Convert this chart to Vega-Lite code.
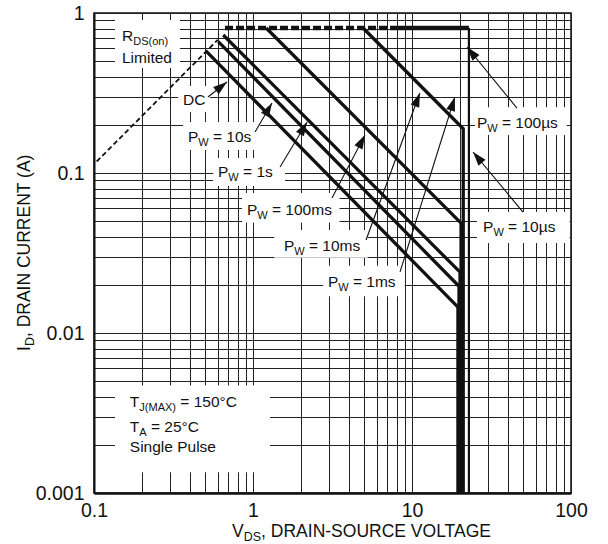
{
  "$schema": "https://vega.github.io/schema/vega-lite/v6.json",
  "autosize": {"type": "none"},
  "padding": {"left": 94, "top": 13, "right": 37, "bottom": 51},
  "width": 477,
  "height": 480,
  "config": {
    "font": "Liberation Sans",
    "view": {"stroke": "#111", "strokeWidth": 1.5},
    "text": {"font": "Liberation Sans", "color": "#111", "baseline": "alphabetic", "align": "left"}
  },
  "datasets": {
    "curves": [
      {"curve": "RDS(on) limit", "k": 1, "v": 0.104, "i": 0.118},
      {"curve": "RDS(on) limit", "k": 2, "v": 0.6, "i": 0.68},
      {"curve": "current limit", "k": 1, "v": 0.667, "i": 0.806},
      {"curve": "current limit", "k": 2, "v": 8.05, "i": 0.806},
      {"curve": "100 µs", "k": 1, "v": 4.92, "i": 0.806},
      {"curve": "100 µs", "k": 2, "v": 21.0, "i": 0.189},
      {"curve": "100 µs", "k": 3, "v": 21.0, "i": 0.001},
      {"curve": "100 ms", "k": 1, "v": 1.21, "i": 0.806},
      {"curve": "100 ms", "k": 2, "v": 20.35, "i": 0.0486},
      {"curve": "100 ms", "k": 3, "v": 20.35, "i": 0.001},
      {"curve": "1 s", "k": 1, "v": 0.65, "i": 0.729},
      {"curve": "1 s", "k": 2, "v": 20.05, "i": 0.024},
      {"curve": "1 s", "k": 3, "v": 20.05, "i": 0.001},
      {"curve": "10 s", "k": 1, "v": 0.605, "i": 0.662},
      {"curve": "10 s", "k": 2, "v": 19.75, "i": 0.0196},
      {"curve": "10 s", "k": 3, "v": 19.75, "i": 0.001},
      {"curve": "DC", "k": 1, "v": 0.511, "i": 0.573},
      {"curve": "DC", "k": 2, "v": 19.45, "i": 0.01452},
      {"curve": "DC", "k": 3, "v": 19.45, "i": 0.001},
      {"curve": "10 µs top", "k": 1, "v": 8.05, "i": 0.806},
      {"curve": "10 µs top", "k": 2, "v": 22.8, "i": 0.806},
      {"curve": "10 µs", "k": 1, "v": 22.8, "i": 0.806},
      {"curve": "10 µs", "k": 2, "v": 22.8, "i": 0.001}
    ],
    "boxes": [
      {"box": "rds", "v": 0.1355, "v2": 0.347, "i": 0.904, "i2": 0.453},
      {"box": "dc", "v": 0.338, "v2": 0.536, "i": 0.35, "i2": 0.24},
      {"box": "10s", "v": 0.363, "v2": 1.11, "i": 0.208, "i2": 0.139},
      {"box": "1s", "v": 0.561, "v2": 1.59, "i": 0.124, "i2": 0.083},
      {"box": "100ms", "v": 0.853, "v2": 3.5, "i": 0.075, "i2": 0.049},
      {"box": "10ms", "v": 1.36, "v2": 5.27, "i": 0.044, "i2": 0.0295},
      {"box": "1ms", "v": 2.76, "v2": 9.0, "i": 0.0263, "i2": 0.017},
      {"box": "100us", "v": 24.9, "v2": 94, "i": 0.258, "i2": 0.173},
      {"box": "10us", "v": 25.6, "v2": 98, "i": 0.057, "i2": 0.0365},
      {"box": "cond", "v": 0.1355, "v2": 1.28, "i": 0.0047, "i2": 0.00135}
    ],
    "arrows": [
      {"arrow": "DC", "k": 1, "v": 0.521, "i": 0.2985},
      {"arrow": "DC", "k": 2, "v": 0.686, "i": 0.3707},
      {"arrow": "10s", "k": 1, "v": 1.03, "i": 0.1804},
      {"arrow": "10s", "k": 2, "v": 1.317, "i": 0.274},
      {"arrow": "1s", "k": 1, "v": 1.479, "i": 0.109},
      {"arrow": "1s", "k": 2, "v": 2.19, "i": 0.2083},
      {"arrow": "100ms", "k": 1, "v": 3.14, "i": 0.0698},
      {"arrow": "100ms", "k": 2, "v": 5.06, "i": 0.1728},
      {"arrow": "10ms", "k": 1, "v": 5.14, "i": 0.0381},
      {"arrow": "10ms", "k": 2, "v": 11.2, "i": 0.316},
      {"arrow": "1ms", "k": 1, "v": 8.41, "i": 0.0241},
      {"arrow": "1ms", "k": 2, "v": 18.6, "i": 0.2985},
      {"arrow": "100us", "k": 1, "v": 45.7, "i": 0.2547},
      {"arrow": "100us", "k": 2, "v": 22.2, "i": 0.613},
      {"arrow": "10us", "k": 1, "v": 49.9, "i": 0.057},
      {"arrow": "10us", "k": 2, "v": 24.2, "i": 0.1353}
    ],
    "heads": [
      {"arrow": "DC", "v": 0.686, "i": 0.3707, "angle": 51.7},
      {"arrow": "10s", "v": 1.317, "i": 0.274, "angle": 30.4},
      {"arrow": "1s", "v": 2.19, "i": 0.2083, "angle": 31},
      {"arrow": "100ms", "v": 5.06, "i": 0.1728, "angle": 27.6},
      {"arrow": "10ms", "v": 11.2, "i": 0.316, "angle": 20.2},
      {"arrow": "1ms", "v": 18.6, "i": 0.2985, "angle": 17.4},
      {"arrow": "100us", "v": 22.2, "i": 0.613, "angle": 320.7},
      {"arrow": "10us", "v": 24.2, "i": 0.1353, "angle": 320.2}
    ],
    "labels": [
      {"grp": "R", "main": "R", "sub": "DS(on)", "post": "", "v": 0.15, "i": 0.668},
      {"grp": "none", "main": "Limited", "sub": "", "post": "", "v": 0.15, "i": 0.487},
      {"grp": "none", "main": "DC", "sub": "", "post": "", "v": 0.363, "i": 0.266},
      {"grp": "W", "main": "P", "sub": "W", "post": "= 10s", "v": 0.39, "i": 0.156},
      {"grp": "W", "main": "P", "sub": "W", "post": "= 1s", "v": 0.603, "i": 0.0944},
      {"grp": "W", "main": "P", "sub": "W", "post": "= 100ms", "v": 0.917, "i": 0.0546},
      {"grp": "W", "main": "P", "sub": "W", "post": "= 10ms", "v": 1.567, "i": 0.0326},
      {"grp": "W", "main": "P", "sub": "W", "post": "= 1ms", "v": 2.96, "i": 0.0194},
      {"grp": "W", "main": "P", "sub": "W", "post": "= 100µs", "v": 25.6, "i": 0.191},
      {"grp": "W", "main": "P", "sub": "W", "post": "= 10µs", "v": 28.0, "i": 0.0428},
      {"grp": "J", "main": "T", "sub": "J(MAX)", "post": "= 150°C", "v": 0.168, "i": 0.00345},
      {"grp": "A", "main": "T", "sub": "A", "post": "= 25°C", "v": 0.168, "i": 0.0024},
      {"grp": "none", "main": "Single Pulse", "sub": "", "post": "", "v": 0.168, "i": 0.0018}
    ],
    "titles": [
      {"axis": "x", "main": "V", "sub": "DS", "post": ", DRAIN-SOURCE VOLTAGE", "v": 0.738, "i": 0.001},
      {"axis": "y", "main": "I", "sub": "D", "post": ", DRAIN CURRENT (A)", "v": 0.1, "i": 0.00772}
    ]
  },
  "encoding": {
    "x": {
      "field": "v", "type": "quantitative",
      "scale": {"type": "log", "domain": [0.1, 100], "nice": false},
      "axis": {
        "title": null,
        "values": [0.1, 0.2, 0.3, 0.4, 0.5, 0.6, 0.7, 0.8, 0.9, 1, 2, 3, 4, 5, 6, 7, 8, 9, 10, 20, 30, 40, 50, 60, 70, 80, 90, 100],
        "labelExpr": "abs(log(datum.value)/LN10 - round(log(datum.value)/LN10)) < 0.01 ? format(datum.value, '~g') : ''",
        "grid": true, "gridColor": "#222", "gridWidth": 1, "gridOpacity": 1,
        "ticks": false, "domain": true, "domainColor": "#111", "domainWidth": 2.5,
        "labelFont": "Liberation Sans", "labelFontSize": 19.5, "labelColor": "#111",
        "labelPadding": 8, "labelFlush": false, "labelOverlap": false
      }
    },
    "y": {
      "field": "i", "type": "quantitative",
      "scale": {"type": "log", "domain": [0.001, 1], "nice": false},
      "axis": {
        "title": null,
        "values": [0.001, 0.002, 0.003, 0.004, 0.005, 0.006, 0.007, 0.008, 0.009, 0.01, 0.02, 0.03, 0.04, 0.05, 0.06, 0.07, 0.08, 0.09, 0.1, 0.2, 0.3, 0.4, 0.5, 0.6, 0.7, 0.8, 0.9, 1],
        "labelExpr": "abs(log(datum.value)/LN10 - round(log(datum.value)/LN10)) < 0.01 ? format(datum.value, '~g') : ''",
        "grid": true, "gridColor": "#222", "gridWidth": 1, "gridOpacity": 1,
        "ticks": false, "domain": true, "domainColor": "#111", "domainWidth": 2,
        "labelFont": "Liberation Sans", "labelFontSize": 19.5, "labelColor": "#111",
        "labelPadding": 10, "labelFlush": false, "labelOverlap": false
      }
    }
  },
  "layer": [
    {
      "data": {"name": "boxes"},
      "mark": {"type": "rect", "fill": "white", "stroke": null},
      "encoding": {"x2": {"field": "v2"}, "y2": {"field": "i2"}}
    },
    {
      "data": {"name": "curves"},
      "transform": [{"filter": "datum.curve == 'RDS(on) limit'"}],
      "mark": {"type": "line", "color": "#111", "strokeWidth": 1.8, "strokeDash": [5, 3]},
      "encoding": {"order": {"field": "k"}}
    },
    {
      "data": {"name": "curves"},
      "transform": [{"filter": "datum.curve == 'current limit'"}],
      "mark": {"type": "line", "color": "#111", "strokeWidth": 4.5, "strokeDash": [8, 3]},
      "encoding": {"order": {"field": "k"}}
    },
    {
      "data": {"name": "curves"},
      "transform": [{"filter": "indexof(['100 µs','100 ms','1 s','10 s','DC'], datum.curve) >= 0"}],
      "mark": {"type": "line", "color": "#111", "strokeWidth": 3.3},
      "encoding": {"detail": {"field": "curve"}, "order": {"field": "k"}}
    },
    {
      "data": {"name": "curves"},
      "transform": [{"filter": "datum.curve == '10 µs top'"}],
      "mark": {"type": "line", "color": "#111", "strokeWidth": 4.5},
      "encoding": {"order": {"field": "k"}}
    },
    {
      "data": {"name": "curves"},
      "transform": [{"filter": "datum.curve == '10 µs'"}],
      "mark": {"type": "line", "color": "#111", "strokeWidth": 2.2},
      "encoding": {"order": {"field": "k"}}
    },
    {
      "data": {"name": "arrows"},
      "mark": {"type": "line", "color": "#111", "strokeWidth": 1.1},
      "encoding": {"detail": {"field": "arrow"}, "order": {"field": "k"}}
    },
    {
      "data": {"name": "heads"},
      "mark": {"type": "point", "shape": "M0,0L0.65,2L-0.65,2Z", "filled": true, "color": "#111", "opacity": 1, "size": 196},
      "encoding": {"angle": {"field": "angle", "type": "quantitative", "scale": null}}
    },
    {
      "data": {"name": "labels"},
      "mark": {"type": "text", "fontSize": 15.5},
      "encoding": {"text": {"field": "main"}}
    },
    {
      "data": {"name": "labels"},
      "transform": [{"filter": "datum.grp == 'W'"}],
      "mark": {"type": "text", "fontSize": 11, "dx": 10.3, "dy": 4},
      "encoding": {"text": {"field": "sub"}}
    },
    {
      "data": {"name": "labels"},
      "transform": [{"filter": "datum.grp == 'W'"}],
      "mark": {"type": "text", "fontSize": 15.5, "dx": 25},
      "encoding": {"text": {"field": "post"}}
    },
    {
      "data": {"name": "labels"},
      "transform": [{"filter": "datum.grp == 'R'"}],
      "mark": {"type": "text", "fontSize": 11, "dx": 11.2, "dy": 4},
      "encoding": {"text": {"field": "sub"}}
    },
    {
      "data": {"name": "labels"},
      "transform": [{"filter": "datum.grp == 'J' || datum.grp == 'A'"}],
      "mark": {"type": "text", "fontSize": 11, "dx": 9.5, "dy": 4},
      "encoding": {"text": {"field": "sub"}}
    },
    {
      "data": {"name": "labels"},
      "transform": [{"filter": "datum.grp == 'J'"}],
      "mark": {"type": "text", "fontSize": 15.5, "dx": 50.5},
      "encoding": {"text": {"field": "post"}}
    },
    {
      "data": {"name": "labels"},
      "transform": [{"filter": "datum.grp == 'A'"}],
      "mark": {"type": "text", "fontSize": 15.5, "dx": 21.1},
      "encoding": {"text": {"field": "post"}}
    },
    {
      "data": {"name": "titles"},
      "transform": [{"filter": "datum.axis == 'x'"}],
      "mark": {"type": "text", "fontSize": 17.5, "dy": 44},
      "encoding": {"text": {"field": "main"}}
    },
    {
      "data": {"name": "titles"},
      "transform": [{"filter": "datum.axis == 'x'"}],
      "mark": {"type": "text", "fontSize": 12.5, "dx": 11.7, "dy": 48},
      "encoding": {"text": {"field": "sub"}}
    },
    {
      "data": {"name": "titles"},
      "transform": [{"filter": "datum.axis == 'x'"}],
      "mark": {"type": "text", "fontSize": 17.5, "dx": 29.1, "dy": 44},
      "encoding": {"text": {"field": "post"}}
    },
    {
      "data": {"name": "titles"},
      "transform": [{"filter": "datum.axis == 'y'"}],
      "mark": {"type": "text", "fontSize": 17.5, "angle": 270, "dy": -64},
      "encoding": {"text": {"field": "main"}}
    },
    {
      "data": {"name": "titles"},
      "transform": [{"filter": "datum.axis == 'y'"}],
      "mark": {"type": "text", "fontSize": 12.5, "angle": 270, "dx": 4.9, "dy": -60},
      "encoding": {"text": {"field": "sub"}}
    },
    {
      "data": {"name": "titles"},
      "transform": [{"filter": "datum.axis == 'y'"}],
      "mark": {"type": "text", "fontSize": 17.5, "angle": 270, "dx": 13.9, "dy": -64},
      "encoding": {"text": {"field": "post"}}
    }
  ]
}
